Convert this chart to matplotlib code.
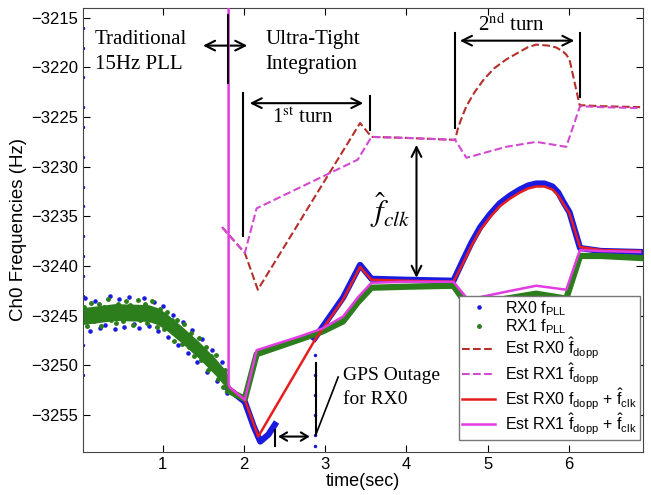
import numpy as np
import matplotlib
matplotlib.use('Agg')
import matplotlib.pyplot as plt

plt.rcParams['font.family'] = ['Liberation Sans', 'DejaVu Sans']
plt.rcParams['mathtext.fontset'] = 'custom'
plt.rcParams['mathtext.rm'] = 'Liberation Sans'
plt.rcParams['mathtext.it'] = 'Liberation Sans:italic'

# Traditional PLL part (noisy), sampled every 30 ms
t_trad_g = np.linspace(0.03, 1.80, 60)
f_trad_g = [-3244.1, -3246.05, -3244.6, -3243.7, -3245.55, -3245.0, -3243.8, -3246.05, -3244.1, -3245.1,
            -3243.35, -3245.5, -3244.5, -3245.8, -3243.8, -3244.2, -3245.6, -3243.5, -3245.1, -3243.9,
            -3245.95, -3244.45, -3243.45, -3245.5, -3245.0, -3243.8, -3245.8, -3244.25, -3243.5, -3245.45,
            -3246.2, -3244.3, -3245.2, -3246.4, -3244.6, -3246.3, -3245.5, -3247.6, -3245.5, -3246.9,
            -3247.9, -3245.9, -3247.0, -3248.2, -3246.8, -3249.1, -3247.75, -3247.3, -3249.45, -3249.0,
            -3248.15, -3250.5, -3249.05, -3250.4, -3248.95, -3251.35, -3250.55, -3252.2, -3250.5, -3252.2]
# dense core of the green band
t_env = [0.02, 0.41, 0.82, 0.93, 1.03, 1.235, 1.44, 1.645, 1.77, 1.81]
band_hi = [-3244.2, -3243.8, -3243.9, -3244.2, -3244.7, -3246.1, -3247.6, -3249.3, -3250.5, -3251.1]
band_lo = [-3245.9, -3245.5, -3245.6, -3245.9, -3246.4, -3247.8, -3249.3, -3251.0, -3252.2, -3252.8]

t_trad_b = np.linspace(0.045, 1.785, 30)
f_trad_b = [-3243.2, -3246.6, -3243.5, -3246.3, -3246.0, -3243.0, -3246.4, -3243.3, -3246.2, -3243.1,
            -3245.9, -3246.3, -3243.2, -3246.1, -3243.6, -3246.6, -3244.0, -3247.2, -3244.9, -3248.0,
            -3245.7, -3248.8, -3246.5, -3249.7, -3247.4, -3250.7, -3248.5, -3251.6, -3249.7, -3252.8]
# start-up transient dots at the left edge
t_start = [0.02] * 14
f_start = [-3216, -3218, -3221, -3224, -3226, -3229, -3232, -3234, -3237, -3239, -3241, -3243, -3248, -3251]

# f_PLL during ultra-tight integration
t_b1 = [1.81, 2.01, 2.12, 2.20, 2.30, 2.38]
f_b1 = [-3252.4, -3253.7, -3256.2, -3257.7, -3257.0, -3256.0]
t_b2 = [2.87, 3.22, 3.43, 3.57, 4.00, 4.58, 4.70, 4.80, 4.91, 5.03, 5.15, 5.28, 5.40, 5.50, 5.60, 5.70,
        5.80, 5.87, 5.93, 6.01, 6.14, 6.40, 6.88]
f_b2 = [-3247.3, -3243.2, -3239.9, -3241.3, -3241.4, -3241.5, -3239.4, -3237.7, -3236.1, -3234.8, -3233.7,
        -3232.9, -3232.3, -3231.9, -3231.7, -3231.7, -3232.0, -3232.6, -3233.5, -3234.6, -3238.2, -3238.5,
        -3238.6]
t_b_col = [2.87] * 6
f_b_col = [-3249.0, -3251.0, -3253.0, -3255.0, -3257.0, -3258.2]
t_g = [1.81, 2.01, 2.155, 2.69, 2.97, 3.22, 3.40, 3.57, 4.00, 4.58, 4.76, 5.23, 5.60, 5.97, 6.14, 6.40, 6.88]
f_g = [-3252.6, -3253.4, -3248.9, -3247.4, -3246.6, -3245.6, -3243.7, -3242.2, -3242.1, -3242.0, -3244.1,
       -3243.3, -3242.8, -3243.3, -3239.0, -3239.0, -3239.2]

# estimated doppler
t_d0 = [1.73, 2.01, 2.17, 3.43, 3.57, 4.00, 4.60, 4.64, 4.69, 4.74, 4.84, 4.95, 5.08, 5.23, 5.40, 5.50,
        5.60, 5.75, 5.85, 5.93, 5.97, 6.01, 6.135, 6.40, 6.88]
f_d0 = [-3236.1, -3238.7, -3242.4, -3225.6, -3227.0, -3227.1, -3227.3, -3226.0, -3224.9, -3223.9, -3222.5,
        -3221.25, -3220.1, -3219.2, -3218.4, -3217.95, -3217.7, -3217.8, -3218.0, -3218.4, -3218.7, -3219.2,
        -3223.8, -3223.9, -3224.0]
t_d1 = [1.73, 2.01, 2.155, 3.40, 3.57, 4.00, 4.60, 4.74, 5.23, 5.60, 5.97, 6.14, 6.40, 6.88]
f_d1 = [-3236.1, -3238.7, -3234.2, -3229.3, -3227.0, -3227.1, -3227.3, -3229.1, -3228.0, -3227.5, -3228.0,
        -3223.9, -3224.0, -3224.1]

# estimated doppler + clock
t_s0 = [1.83, 2.01, 2.175, 2.87, 3.22, 3.43, 3.57, 4.00, 4.58, 4.70, 4.80, 4.91, 5.03, 5.15, 5.28, 5.40,
        5.50, 5.60, 5.70, 5.80, 5.87, 5.93, 6.01, 6.14, 6.40, 6.88]
f_s0 = [-3252.3, -3253.5, -3257.2, -3247.5, -3243.4, -3240.1, -3241.4, -3241.5, -3241.6, -3239.7, -3238.0,
        -3236.4, -3235.1, -3234.0, -3233.2, -3232.6, -3232.2, -3232.0, -3232.0, -3232.3, -3232.9, -3233.7,
        -3234.7, -3238.1, -3238.4, -3238.5]
t_s1 = [1.81, 1.81, 1.83, 2.01, 2.155, 2.69, 2.97, 3.22, 3.40, 3.57, 4.00, 4.58, 4.76, 5.23, 5.60, 5.97,
        6.14, 6.40, 6.88]
f_s1 = [-3200.0, -3252.0, -3252.3, -3253.5, -3248.5, -3247.1, -3246.3, -3245.1, -3243.2, -3241.7, -3241.6,
        -3241.6, -3243.4, -3242.6, -3242.0, -3242.4, -3238.4, -3238.5, -3238.6]

blue = '#1a1ae0'
green = '#2c7d1c'
dred = '#b5302a'
dmag = '#d24ad2'
red = '#e61e1e'
mag = '#e23ce2'

fig = plt.figure(figsize=(6.51, 4.95), dpi=100)
ax = fig.add_axes([0.127, 0.087, 0.860, 0.897])

# f_PLL dots
ax.plot(t_trad_b, f_trad_b, '.', color=blue, ms=4.5, zorder=2, label=r'RX0 f$_{\mathrm{PLL}}$')
ax.plot(t_start, f_start, '.', color=blue, ms=3, zorder=2)
ax.fill_between(t_env, band_lo, band_hi, color=green, lw=0, zorder=3)
ax.plot(t_trad_g, f_trad_g, '.', color=green, ms=5, zorder=3, label=r'RX1 f$_{\mathrm{PLL}}$')
ax.plot(t_b1, f_b1, '-', color=blue, lw=4.5, zorder=2)
ax.plot(t_b2, f_b2, '-', color=blue, lw=4.5, zorder=2)
ax.plot(t_b_col, f_b_col, '.', color=blue, ms=3, zorder=2)
ax.plot(t_g, f_g, '-', color=green, lw=4.5, zorder=3)

# estimates
ax.plot(t_d0, f_d0, '--', color=dred, lw=1.5, zorder=4, label=r'Est RX0 $\hat{\mathrm{f}}_{\mathrm{dopp}}$')
ax.plot(t_d1, f_d1, '--', color=dmag, lw=1.5, zorder=4, label=r'Est RX1 $\hat{\mathrm{f}}_{\mathrm{dopp}}$')
ax.plot(t_s0, f_s0, '-', color=red, lw=1.8, zorder=5,
        label=r'Est RX0 f$_{\mathrm{dopp}}$ + $\hat{\mathrm{f}}_{\mathrm{clk}}$')
ax.plot(t_s1, f_s1, '-', color=mag, lw=1.8, zorder=5,
        label=r'Est RX1 $\hat{\mathrm{f}}_{\mathrm{dopp}}$ + $\hat{\mathrm{f}}_{\mathrm{clk}}$')

ax.set_xlim(0.012, 6.91)
ax.set_ylim(-3258.75, -3214.0)
ax.set_xticks([1, 2, 3, 4, 5, 6])
ax.set_yticks(np.arange(-3255, -3214, 5))
ax.tick_params(direction='in', top=True, right=True, length=5, labelsize=12)
ax.set_xlabel('time(sec)', fontsize=13, labelpad=1)
ax.set_ylabel('Ch0 Frequencies (Hz)', fontsize=13.5, labelpad=3)
for s in ax.spines.values():
    s.set_color('#444444')

# annotations
serif = ['Liberation Serif', 'DejaVu Serif']
k = dict(color='black', lw=1.5, zorder=6)
arr = dict(arrowstyle='<->,head_length=0.7,head_width=0.35', lw=1.5, color='black', shrinkA=0, shrinkB=0)

ax.plot([1.805, 1.805], [-3214.7, -3221.55], **k)
ax.annotate('', xy=(1.495, -3217.8), xytext=(2.04, -3217.8), arrowprops=arr)
ax.text(0.165, -3217.2, 'Traditional', family=serif, fontsize=15, va='center')
ax.text(0.165, -3219.7, '15Hz PLL', family=serif, fontsize=15, va='center')
ax.text(2.26, -3217.2, 'Ultra-Tight', family=serif, fontsize=15, va='center')
ax.text(2.26, -3219.7, 'Integration', family=serif, fontsize=15, va='center')

ax.plot([1.99, 1.99], [-3222.6, -3237.0], **k)
ax.plot([3.55, 3.55], [-3222.9, -3226.3], **k)
ax.annotate('', xy=(2.07, -3223.6), xytext=(3.47, -3223.6), arrowprops=arr)
ax.text(2.725, -3225.1, r'1$^{\mathrm{st}}$ turn', family=serif, math_fontfamily='stix',
        fontsize=15, ha='center', va='center')

ax.plot([4.60, 4.60], [-3216.5, -3226.1], **k)
ax.plot([6.14, 6.14], [-3216.5, -3223.0], **k)
ax.annotate('', xy=(4.66, -3217.3), xytext=(6.07, -3217.3), arrowprops=arr)
ax.text(5.30, -3215.7, r'2$^{\mathrm{nd}}$ turn', family=serif, math_fontfamily='stix',
        fontsize=15, ha='center', va='center')

ax.annotate('', xy=(4.125, -3227.8), xytext=(4.125, -3241.2), arrowprops=arr)
ax.text(3.80, -3234.35, r'$\hat{f}_{clk}$', math_fontfamily='stix', fontsize=22,
        ha='center', va='center')

ax.plot([2.885, 2.885], [-3249.8, -3257.0], **k)
ax.plot([2.38, 2.38], [-3256.5, -3258.2], **k)
ax.annotate('', xy=(2.42, -3257.2), xytext=(2.81, -3257.2),
            arrowprops=dict(arr, arrowstyle='<->,head_length=0.5,head_width=0.3'))
ax.plot([2.89, 3.16], [-3256.9, -3251.2], color='black', lw=1.2, zorder=6)
ax.text(3.22, -3251.0, 'GPS Outage', family=serif, fontsize=14, va='center')
ax.text(3.22, -3253.5, 'for RX0', family=serif, fontsize=14, va='center')

leg = ax.legend(loc='lower right', bbox_to_anchor=(0.995, 0.027), borderaxespad=0,
                fontsize=11.5, handlelength=2.1, labelspacing=0.0, numpoints=1,
                fancybox=False, framealpha=1, edgecolor='#777777', borderpad=0.2,
                handletextpad=0.6)
leg.set_zorder(10)

fig.savefig('out.png', dpi=100)
